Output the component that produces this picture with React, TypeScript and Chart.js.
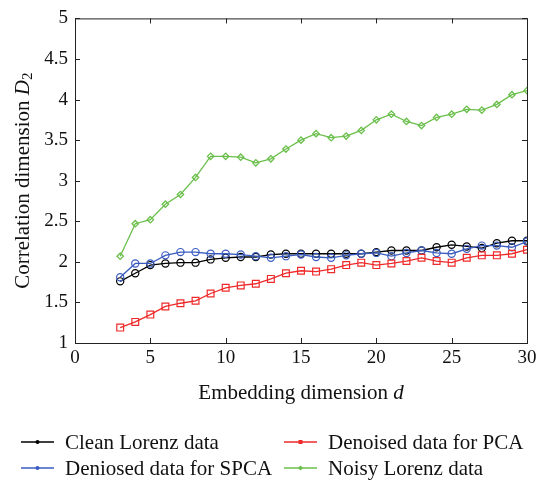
import React, { useEffect, useRef } from "react";
import { Chart, registerables } from "chart.js";

Chart.register(...registerables);

const dims = [3,4,5,6,7,8,9,10,11,12,13,14,15,16,17,18,19,20,21,22,23,24,25,26,27,28,29,30];
const cleanLorenz = [1.76,1.86,1.96,1.98,1.99,1.99,2.03,2.05,2.06,2.06,2.09,2.1,2.1,2.1,2.1,2.1,2.1,2.12,2.14,2.14,2.14,2.18,2.21,2.19,2.17,2.23,2.26,2.26];
const denoisedSPCA = [1.81,1.98,1.98,2.08,2.12,2.12,2.1,2.1,2.09,2.07,2.05,2.07,2.09,2.06,2.05,2.08,2.1,2.11,2.07,2.11,2.14,2.11,2.1,2.16,2.2,2.2,2.18,2.25];
const denoisedPCA = [1.19,1.26,1.35,1.45,1.49,1.52,1.61,1.68,1.71,1.73,1.79,1.86,1.89,1.88,1.91,1.96,1.99,1.96,1.98,2.01,2.05,2.01,1.99,2.05,2.08,2.08,2.1,2.15];
const noisyLorenz = [2.07,2.47,2.52,2.71,2.83,3.04,3.3,3.3,3.29,3.22,3.27,3.39,3.5,3.58,3.53,3.55,3.62,3.75,3.82,3.73,3.68,3.78,3.82,3.88,3.87,3.94,4.06,4.11];
const xTicks = [0,5,10,15,20,25,30];
const yTicks = [1,1.5,2,2.5,3,3.5,4,4.5,5];

const BLACK = "#000000";
const BLUE = "#3a5cc0";
const RED = "#ee2a2a";
const GREEN = "#6abf4b";
const FONT = "'Liberation Serif', 'Times New Roman', serif";

const legendItems = [
  { label: "Clean Lorenz data", color: BLACK, col: 0, row: 0, style: "circle" },
  { label: "Deniosed data for SPCA", color: BLUE, col: 0, row: 1, style: "circle" },
  { label: "Denoised data for PCA", color: RED, col: 1, row: 0, style: "rect" },
  { label: "Noisy Lorenz data", color: GREEN, col: 1, row: 1, style: "diamond" },
];

const framePlugin = {
  id: "frame",
  afterDraw(chart: any) {
    const { ctx, chartArea } = chart;
    const { left, right, top, bottom } = chartArea;
    const xs = chart.scales.x;
    const ys = chart.scales.y;
    ctx.save();
    ctx.strokeStyle = "#222";
    ctx.lineWidth = 1;
    ctx.strokeRect(left + 0.5, top + 0.5, right - left, bottom - top);
    ctx.beginPath();
    const tl = 5;
    xTicks.forEach((v) => {
      const px = Math.round(xs.getPixelForValue(v)) + 0.5;
      ctx.moveTo(px, bottom);
      ctx.lineTo(px, bottom - tl);
      ctx.moveTo(px, top);
      ctx.lineTo(px, top + tl);
    });
    yTicks.forEach((v) => {
      const py = Math.round(ys.getPixelForValue(v)) + 0.5;
      ctx.moveTo(left, py);
      ctx.lineTo(left + tl, py);
      ctx.moveTo(right, py);
      ctx.lineTo(right - tl, py);
    });
    ctx.stroke();

    // x title
    ctx.fillStyle = "#111";
    ctx.textBaseline = "middle";
    const fs = 21;
    const p1 = "Embedding dimension ";
    const p2 = "d";
    ctx.font = `${fs}px ${FONT}`;
    const w1 = ctx.measureText(p1).width;
    ctx.font = `italic ${fs}px ${FONT}`;
    const w2 = ctx.measureText(p2).width;
    const cx = (left + right) / 2;
    let sx = cx - (w1 + w2) / 2;
    ctx.font = `${fs}px ${FONT}`;
    ctx.textAlign = "left";
    ctx.fillText(p1, sx, 393);
    ctx.font = `italic ${fs}px ${FONT}`;
    ctx.fillText(p2, sx + w1, 393);

    // y title
    ctx.save();
    ctx.translate(23, (top + bottom) / 2);
    ctx.rotate(-Math.PI / 2);
    const q1 = "Correlation dimension ";
    const q2 = "D";
    const q3 = "2";
    ctx.font = `${fs}px ${FONT}`;
    const v1 = ctx.measureText(q1).width;
    ctx.font = `italic ${fs}px ${FONT}`;
    const v2 = ctx.measureText(q2).width;
    ctx.font = `${Math.round(fs * 0.7)}px ${FONT}`;
    const v3 = ctx.measureText(q3).width;
    let s = -(v1 + v2 + v3) / 2;
    ctx.font = `${fs}px ${FONT}`;
    ctx.fillText(q1, s, 0);
    ctx.font = `italic ${fs}px ${FONT}`;
    ctx.fillText(q2, s + v1, 0);
    ctx.font = `${Math.round(fs * 0.7)}px ${FONT}`;
    ctx.fillText(q3, s + v1 + v2, 5);
    ctx.restore();

    // legend
    const colX = [21, 284];
    const rowY = [442, 468];
    legendItems.forEach((it) => {
      const x0 = colX[it.col];
      const y0 = rowY[it.row];
      ctx.strokeStyle = it.color;
      ctx.fillStyle = it.color;
      ctx.lineWidth = 1.5;
      ctx.beginPath();
      ctx.moveTo(x0, y0);
      ctx.lineTo(x0 + 33, y0);
      ctx.stroke();
      const mx = x0 + 16.5;
      ctx.beginPath();
      if (it.style === "rect") {
        ctx.rect(mx - 2, y0 - 2, 4, 4);
      } else if (it.style === "diamond") {
        ctx.moveTo(mx, y0 - 2.5);
        ctx.lineTo(mx + 2.5, y0);
        ctx.lineTo(mx, y0 + 2.5);
        ctx.lineTo(mx - 2.5, y0);
        ctx.closePath();
      } else {
        ctx.arc(mx, y0, 2, 0, Math.PI * 2);
      }
      ctx.fill();
      ctx.fillStyle = "#111";
      ctx.font = `${fs}px ${FONT}`;
      ctx.textAlign = "left";
      ctx.textBaseline = "middle";
      ctx.fillText(it.label, x0 + 44, y0 + 1);
    });
    ctx.restore();
  },
};

export default function App() {
  const ref = useRef<HTMLCanvasElement>(null);
  useEffect(() => {
    if (!ref.current) return;
    Chart.defaults.font.family = FONT;
    const mk = (label: string, data: number[], color: string, style: any, radius: number, bw: number) => ({
      label,
      data: dims.map((d, i) => ({ x: d, y: data[i] })),
      borderColor: color,
      backgroundColor: "rgba(0,0,0,0)",
      pointBorderColor: color,
      pointBackgroundColor: "rgba(0,0,0,0)",
      pointStyle: style,
      pointRadius: radius,
      pointBorderWidth: bw,
      borderWidth: 1.3,
      tension: 0,
    });
    const chart = new Chart(ref.current, {
      type: "line",
      data: {
        datasets: [
          mk("Noisy Lorenz data", noisyLorenz, GREEN, "rectRot", 3.2, 1.3),
          mk("Denoised data for PCA", denoisedPCA, RED, "rect", 4.8, 1.2),
          mk("Deniosed data for SPCA", denoisedSPCA, BLUE, "circle", 3.6, 1.2),
          mk("Clean Lorenz data", cleanLorenz, BLACK, "circle", 3.6, 1.2),
        ],
      },
      options: {
        responsive: false,
        animation: false,
        layout: { padding: { left: 0, top: 14, right: 23, bottom: 0 } },
        plugins: { legend: { display: false }, tooltip: { enabled: false } },
        scales: {
          x: {
            type: "linear",
            min: 0,
            max: 30,
            grid: { display: false, drawTicks: false },
            border: { display: false },
            afterBuildTicks: (s: any) => { s.ticks = xTicks.map((v) => ({ value: v })); },
            afterFit: (s: any) => { s.height = 138; },
            ticks: { color: "#111", font: { size: 19, family: FONT }, padding: 4, maxRotation: 0, callback: (v: any) => String(v) },
          },
          y: {
            type: "linear",
            min: 1,
            max: 5,
            grid: { display: false, drawTicks: false },
            border: { display: false },
            afterBuildTicks: (s: any) => { s.ticks = yTicks.map((v) => ({ value: v })); },
            afterFit: (s: any) => { s.width = 75; },
            ticks: { color: "#111", font: { size: 19, family: FONT }, padding: 7, callback: (v: any) => String(v) },
          },
        },
      },
      plugins: [framePlugin],
    });
    return () => chart.destroy();
  }, []);
  return (
    <div style={{ position: "absolute", left: 0, top: 0, width: 550, height: 481 }}>
      <canvas ref={ref} width={550} height={481} style={{ width: 550, height: 481, display: "block" }} />
    </div>
  );
}
